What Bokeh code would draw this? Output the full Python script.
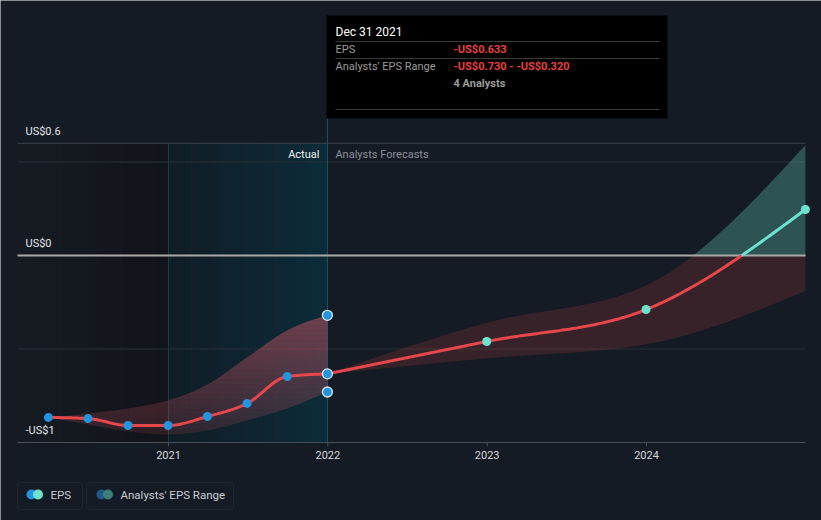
import numpy as np
from datetime import date
from bokeh.plotting import figure
from bokeh.models import Range1d, BoxAnnotation
from bokeh.core.properties import value
from bokeh.embed import file_html
from bokeh.resources import INLINE

# ---------------- data ----------------
hist_dates = ["2020-03-31", "2020-06-30", "2020-09-30", "2020-12-31",
              "2021-03-31", "2021-06-30", "2021-09-30", "2021-12-31"]
hist_eps = [-0.866, -0.872, -0.909, -0.909, -0.861, -0.791, -0.647, -0.633]
hist_low = [-0.866, -0.904, -0.941, -0.957, -0.936, -0.882, -0.818, -0.730]
hist_high = [-0.866, -0.845, -0.818, -0.775, -0.690, -0.545, -0.400, -0.320]

fc_dates = ["2021-12-31", "2022-12-31", "2023-12-31", "2024-12-31"]
fc_eps = [-0.633, -0.460, -0.289, 0.246]
fc_low = [-0.633, -0.550, -0.475, -0.190]
fc_high = [-0.633, -0.360, -0.160, 0.590]

y_label_values = [0.6, 0.0, -1.0]
y_label_texts = ["US$0.6", "US$0", "-US$1"]
grid_values = [0.5, -0.5]
x_tick_years = [2021, 2022, 2023, 2024]
x_tick_labels = ["2021", "2022", "2023", "2024"]

tip_date = "Dec 31 2021"
tip_rows = ["EPS", "Analysts' EPS Range"]
tip_vals = ["-US$0.633", "-US$0.730 - -US$0.320"]
tip_extra = "4 Analysts"
legend_labels = ["EPS", "Analysts' EPS Range"]

# ---------------- helpers ----------------
BG = "#151b24"
FONT = value("Roboto")
PXY = 159.33          # pixels per year
X0 = 2021 - 168 / PXY
PXU = 187.0           # pixels per US$1
YT = 255 / PXU


def X(px):
    return X0 + px / PXY


def Y(py):
    return YT - py / PXU


def frac_year(s):
    d = date.fromisoformat(s)
    a = date(d.year, 1, 1)
    b = date(d.year + 1, 1, 1)
    return d.year + (d - a).days / (b - a).days


def monotone(xs, ys, n=40):
    xs = np.asarray(xs, float)
    ys = np.asarray(ys, float)
    k = len(xs)
    h = np.diff(xs)
    s = np.diff(ys) / h
    m = np.zeros(k)
    for i in range(1, k - 1):
        p = (s[i - 1] * h[i] + s[i] * h[i - 1]) / (h[i - 1] + h[i])
        m[i] = (np.sign(s[i - 1]) + np.sign(s[i])) * min(abs(s[i - 1]), abs(s[i]), 0.5 * abs(p))
    m[0] = (3 * s[0] - m[1]) / 2 if k > 2 else s[0]
    m[-1] = (3 * s[-1] - m[-2]) / 2 if k > 2 else s[-1]
    ox, oy = [], []
    for i in range(k - 1):
        t = np.linspace(0, 1, n, endpoint=(i == k - 2))
        h00 = 2 * t**3 - 3 * t**2 + 1
        h10 = t**3 - 2 * t**2 + t
        h01 = -2 * t**3 + 3 * t**2
        h11 = t**3 - t**2
        ox.extend(xs[i] + t * h[i])
        oy.extend(h00 * ys[i] + h10 * h[i] * m[i] + h01 * ys[i + 1] + h11 * h[i] * m[i + 1])
    return np.array(ox), np.array(oy)


def mix(c1, c2, t):
    a = [int(c1[i:i + 2], 16) for i in (1, 3, 5)]
    b = [int(c2[i:i + 2], 16) for i in (1, 3, 5)]
    return "#%02x%02x%02x" % tuple(int(round(a[j] + (b[j] - a[j]) * t)) for j in range(3))


hx = [frac_year(d) for d in hist_dates]
fx = [frac_year(d) for d in fc_dates]
split = fx[0]

p = figure(width=821, height=520, x_range=Range1d(X(0), X(821)), y_range=Range1d(Y(520), Y(0)),
           x_axis_location=None, y_axis_location=None, toolbar_location=None,
           output_backend="svg", min_border=0, background_fill_color=BG,
           border_fill_color=BG, outline_line_color=None)
p.grid.visible = False

top_v, bot_v = y_label_values[0], y_label_values[-1]


def gradient(x_from, x_to, c1, c2, n=30):
    edges = np.linspace(x_from, x_to, n + 1)
    w = edges[1] - edges[0]
    rights = edges[1:] + np.where(np.arange(n) < n - 1, w * 0.6, 0.0)
    p.quad(left=edges[:-1], right=rights, bottom=bot_v, top=top_v,
           fill_color=[mix(c1, c2, i / (n - 1)) for i in range(n)], line_color=None)


# past region gradient and actual-year highlight
gradient(X(17), x_tick_years[0], "#161b23", "#111419")
gradient(x_tick_years[0], split, "#111d26", "#0c2b39")

# grid lines
xl, xr = X(17), X(805)
p.segment(x0=xl, x1=xr, y0=grid_values, y1=grid_values, line_color="#2b3139", line_width=1)
p.segment(x0=xl, x1=xr, y0=top_v, y1=top_v, line_color="#3d434c", line_width=1)
p.segment(x0=xl, x1=xr, y0=bot_v, y1=bot_v, line_color="#4a505a", line_width=1)
p.segment(x0=x_tick_years, x1=x_tick_years, y0=bot_v, y1=bot_v - 4 / PXU, line_color="#4a505a", line_width=1)

# vertical markers
p.segment(x0=x_tick_years[0], x1=x_tick_years[0], y0=bot_v, y1=top_v, line_color="#173d4b", line_width=1)
p.segment(x0=split, x1=split, y0=bot_v, y1=Y(118), line_color="#1f5265", line_width=1)

# historical range band (vertical gradient)
bx, blo = monotone(hx, hist_low)
_, bhi = monotone(hx, hist_high)
NS = 24
lv = np.linspace(min(hist_low), max(hist_high), NS + 1)
for i in range(NS):
    a, b = lv[i], lv[i + 1]
    t = (i + 0.5) / NS
    p.varea(x=bx, y1=np.clip(blo, a, b), y2=np.clip(bhi, a, b),
            fill_color="#e65a69", fill_alpha=0.14 + 0.32 * t)

# forecast band
fxx, flo = monotone(fx, fc_low)
_, fhi = monotone(fx, fc_high)
p.varea(x=fxx, y1=np.minimum(flo, 0), y2=np.minimum(fhi, 0), fill_color="#e84545", fill_alpha=0.17)
p.varea(x=fxx, y1=np.maximum(flo, 0), y2=np.maximum(fhi, 0), fill_color="#6ee6d0", fill_alpha=0.28)

# zero line
p.segment(x0=xl, x1=xr, y0=0, y1=0, line_color="#a9a9a9", line_width=2)

# EPS lines
RED = "#e5474b"
TEAL = "#6de3cf"
lx, ly = monotone(hx, hist_eps)
p.line(lx, ly, line_color=RED, line_width=3)
ex, ey = monotone(fx, fc_eps, n=80)
idx = np.where((ey[:-1] <= 0) & (ey[1:] > 0))[0]
if len(idx):
    j = idx[0]
    xc = ex[j] + (ex[j + 1] - ex[j]) * (-ey[j]) / (ey[j + 1] - ey[j])
    rx = np.append(ex[:j + 1], xc)
    ry = np.append(ey[:j + 1], 0.0)
    tx = np.insert(ex[j + 1:], 0, xc)
    ty = np.insert(ey[j + 1:], 0, 0.0)
else:
    rx, ry, tx, ty = ex, ey, ex[:0], ey[:0]
p.line(rx, ry, line_color=RED, line_width=3)
p.line(tx, ty, line_color=TEAL, line_width=3)

# markers
BLUE = "#2394df"
p.scatter(hx[:-1], hist_eps[:-1], size=9, fill_color=BLUE, line_color=None)
p.scatter([hx[-1]] * 3, [hist_eps[-1], hist_low[-1], hist_high[-1]], size=10,
          fill_color=BLUE, line_color="#dce6f0", line_width=1.3)
p.scatter(fx[1:], fc_eps[1:], size=9, fill_color=TEAL, line_color=None)

# axis labels
p.text(x=[X(25)] * 3, y=[v + 12 / PXU for v in y_label_values], text=y_label_texts,
       text_font=FONT, text_font_size=value("11px"), text_color="#e2e4e8",
       text_align="left", text_baseline="middle")
p.text(x=x_tick_years, y=[bot_v - 12 / PXU] * 4, text=x_tick_labels,
       text_font=FONT, text_font_size=value("11px"), text_color="#d5d7db",
       text_align="center", text_baseline="middle")
p.text(x=[split - 8 / PXY], y=[Y(154)], text=["Actual"], text_font=FONT,
       text_font_size=value("11px"), text_color="#f0f0f0", text_align="right", text_baseline="middle")
p.text(x=[split + 8 / PXY], y=[Y(154)], text=["Analysts Forecasts"], text_font=FONT,
       text_font_size=value("11px"), text_color="#8a8f97", text_align="left", text_baseline="middle")

# tooltip
p.add_layout(BoxAnnotation(left=X(326), right=X(667), top=Y(15), bottom=Y(118),
                           fill_color="#000000", fill_alpha=1.0, line_color=None, level="underlay"))
p.segment(x0=X(335), x1=X(659), y0=[Y(41), Y(58), Y(109)], y1=[Y(41), Y(58), Y(109)],
          line_color="#3a3a3a", line_width=1)
p.text(x=[X(335)], y=[Y(31)], text=[tip_date], text_font=FONT, text_font_size=value("12px"),
       text_color="#ffffff", text_baseline="middle")
p.text(x=[X(335)] * 2, y=[Y(49), Y(66)], text=tip_rows, text_font=FONT,
       text_font_size=value("11px"), text_color="#9a9a9a", text_baseline="middle")
p.text(x=[X(453)] * 2, y=[Y(49), Y(66)], text=tip_vals, text_font=FONT,
       text_font_size=value("11px"), text_color="#e8403f", text_font_style="bold", text_baseline="middle")
p.text(x=[X(453)], y=[Y(83)], text=[tip_extra], text_font=FONT, text_font_size=value("11px"),
       text_color="#9a9a9a", text_font_style="bold", text_baseline="middle")

# legend
for (l, r) in [(17, 82), (86, 233)]:
    p.add_layout(BoxAnnotation(left=X(l), right=X(r), top=Y(482), bottom=Y(509),
                               fill_color=BG, fill_alpha=1.0, line_color="#3b414b",
                               line_width=1, border_radius=3, level="underlay"))
p.scatter([X(31), X(37.5)], [Y(494)] * 2, size=10, fill_color=[BLUE, TEAL], line_color=None)
p.scatter([X(101), X(107.5)], [Y(494)] * 2, size=10, fill_color=["#1f5a86", "#3e7f79"], line_color=None)
p.text(x=[X(50), X(120)], y=[Y(494)] * 2, text=legend_labels, text_font=FONT,
       text_font_size=value("11.5px"), text_color="#c9ccd1", text_baseline="middle")

open("out.html", "w").write(file_html(p, INLINE))
